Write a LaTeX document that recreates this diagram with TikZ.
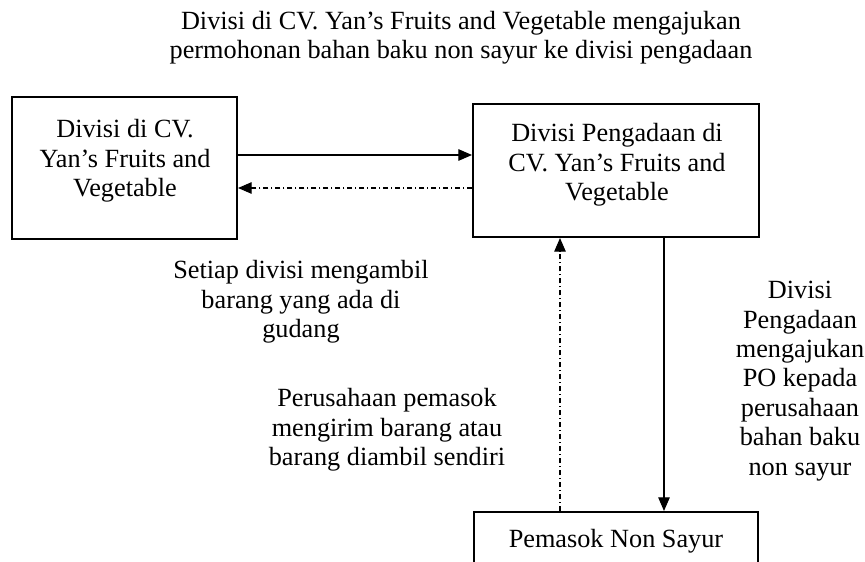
\documentclass[tikz,border=0pt]{standalone}
\usepackage{fontspec}
\setmainfont{Liberation Serif}
\usetikzlibrary{arrows.meta,positioning}

\begin{document}
\begin{tikzpicture}[x=0.476pt,y=-0.476pt,>={Triangle[length=6.5pt,width=5.5pt]}]
	\tikzset{box/.style={draw, shape=rectangle, line width=1pt, inner sep=0pt},
		teks/.style={align=center, inner sep=0pt, font=\fontsize{12.5}{14}\selectfont},
		garis/.style={line width=0.5pt},
		putus/.style={line width=0.5pt, dash pattern=on 2.4pt off 1.4pt on 0.5pt off 1.4pt},
	}
	\clip (0,0) rectangle (865,562);
	
	\node [box, minimum width=107.1pt, minimum height=67.6pt] (divisi) at (124.5,168) {};
	\node [box, minimum width=136.1pt, minimum height=63.3pt] (pengadaan) at (616,170.5) {};
	\node [box, teks, minimum width=135.2pt, minimum height=27.6pt] (pemasok) at (616,541) {Pemasok Non Sayur};
	\node [teks] (divisiteks) at (125,161) {Divisi di CV.\\ Yan’s Fruits and\\ Vegetable};
	\node [teks] (pengadaanteks) at (617,165) {Divisi Pengadaan di\\ CV. Yan’s Fruits and\\ Vegetable};
	\node [teks] (judul) at (461,38) {Divisi di CV. Yan’s Fruits and Vegetable mengajukan\\ permohonan bahan baku non sayur ke divisi pengadaan};
	\node [teks] (ambil) at (301,302) {Setiap divisi mengambil\\ barang yang ada di\\ gudang};
	\node [teks] (kirim) at (387,430) {Perusahaan pemasok\\ mengirim barang atau\\ barang diambil sendiri};
	\node [teks] (po) at (800,381) {Divisi\\ Pengadaan\\ mengajukan\\ PO kepada\\ perusahaan\\ bahan baku\\ non sayur};
	
	\draw [garis, ->] (divisi.east |- 0,155) -- (pengadaan.west |- 0,155);
	\draw [putus, ->] (pengadaan.west |- 0,188) -- (divisi.east |- 0,188);
	\draw [garis, ->] (pengadaan.south -| 664,0) -- (pemasok.north -| 664,0);
	\draw [putus, ->] (pemasok.north -| 560,0) -- (pengadaan.south -| 560,0);
\end{tikzpicture}
\end{document}
